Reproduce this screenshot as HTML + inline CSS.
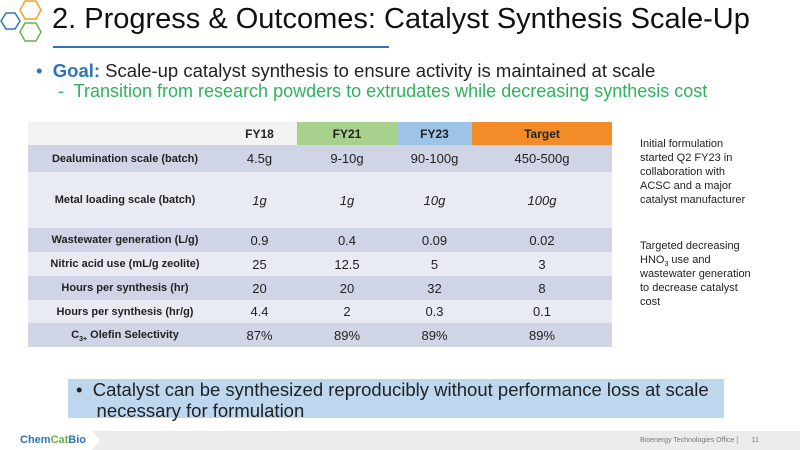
<!DOCTYPE html>
<html><head><style>
body{margin:0;width:800px;height:450px;position:relative;background:#fff;font-family:"Liberation Sans",sans-serif;overflow:hidden}
.a{position:absolute}
sub{line-height:0;font-size:8px}
table{border-collapse:collapse;position:absolute;left:28px;top:122px;width:584px;font-size:13px;text-align:center;color:#222}
td{padding:0}
.l{font-weight:bold;font-size:11px}
.d td{background:#cfd5e4}.g td{background:#e8ebf3}
</style></head><body>
<svg class="a" style="left:0;top:0" width="48" height="46">
<polygon points="6,13 15,13 20,21 15,29 6,29 1,21" fill="none" stroke="#2e75b6" stroke-width="1.5"/>
<polygon points="25,1 36,1 41,10 36,19 25,19 20,10" fill="none" stroke="#f0a030" stroke-width="1.5"/>
<polygon points="25,23 36,23 41,32 36,41 25,41 20,32" fill="none" stroke="#6ab04c" stroke-width="1.5"/>
</svg>
<div class="a" style="left:52px;top:3px;font-size:29px;color:#111">2. Progress &amp; Outcomes: Catalyst Synthesis Scale-Up</div>
<div class="a" style="left:53px;top:46px;width:336px;height:2px;background:#2e75b6"></div>
<div class="a" style="left:36px;top:60px;font-size:18.5px;color:#222"><span style="color:#2e75b6">•</span>&nbsp; <b style="color:#2e75b6">Goal:</b> Scale-up catalyst synthesis to ensure activity is maintained at scale</div>
<div class="a" style="left:58px;top:81px;font-size:18px;color:#2db35a">-&nbsp; Transition from research powders to extrudates while decreasing synthesis cost</div>
<table>
<tr style="height:23px;font-weight:bold;font-size:12px"><td style="width:194px;background:#f2f2f2"></td><td style="width:75px;background:#f2f2f2">FY18</td><td style="width:100px;background:#a9d18e">FY21</td><td style="width:75px;background:#9dc3e6">FY23</td><td style="background:#f28c28">Target</td></tr>
<tr class="d" style="height:27px"><td class="l">Dealumination scale (batch)</td><td>4.5g</td><td>9-10g</td><td>90-100g</td><td>450-500g</td></tr>
<tr class="g" style="height:56px;font-style:italic"><td class="l" style="font-style:normal">Metal loading scale (batch)</td><td>1g</td><td>1g</td><td>10g</td><td>100g</td></tr>
<tr class="d" style="height:24px"><td class="l">Wastewater generation (L/g)</td><td>0.9</td><td>0.4</td><td>0.09</td><td>0.02</td></tr>
<tr class="g" style="height:24px"><td class="l">Nitric acid use (mL/g zeolite)</td><td>25</td><td>12.5</td><td>5</td><td>3</td></tr>
<tr class="d" style="height:24px"><td class="l">Hours per synthesis (hr)</td><td>20</td><td>20</td><td>32</td><td>8</td></tr>
<tr class="g" style="height:23px"><td class="l">Hours per synthesis (hr/g)</td><td>4.4</td><td>2</td><td>0.3</td><td>0.1</td></tr>
<tr class="d" style="height:24px"><td class="l">C<sub style="font-size:7px">3+</sub> Olefin Selectivity</td><td>87%</td><td>89%</td><td>89%</td><td>89%</td></tr>
</table>
<div class="a" style="left:640px;top:137px;font-size:11px;line-height:14px;color:#222">Initial formulation<br>started Q2 FY23 in<br>collaboration with<br>ACSC and a major<br>catalyst manufacturer</div>
<div class="a" style="left:640px;top:239px;font-size:11px;line-height:14px;color:#222">Targeted decreasing<br>HNO<sub style="font-size:7px">3</sub> use and<br>wastewater generation<br>to decrease catalyst<br>cost</div>
<div class="a" style="left:68px;top:379px;width:656px;height:39px;background:#bdd7ee"></div>
<div class="a" style="left:76px;top:379px;font-size:18.5px;line-height:21px;color:#222">•&nbsp; Catalyst can be synthesized reproducibly without performance loss at scale<br>&nbsp;&nbsp;&nbsp; necessary for formulation</div>
<div class="a" style="left:0;top:431px;width:800px;height:19px;background:#ececec"></div>
<div class="a" style="left:0;top:431px;width:100px;height:19px;background:#fff;clip-path:polygon(0 0,92% 0,100% 50%,92% 100%,0 100%)"></div>
<div class="a" style="left:20px;top:434px;font-size:11px;font-weight:bold;color:#2e75b6">Chem<span style="color:#6ab04c">Cat</span>Bio</div>
<div class="a" style="left:640px;top:437px;font-size:7px;color:#777">Bioenergy Technologies Office |&nbsp;&nbsp;&nbsp;&nbsp;&nbsp;&nbsp; 11</div>
</body></html>
